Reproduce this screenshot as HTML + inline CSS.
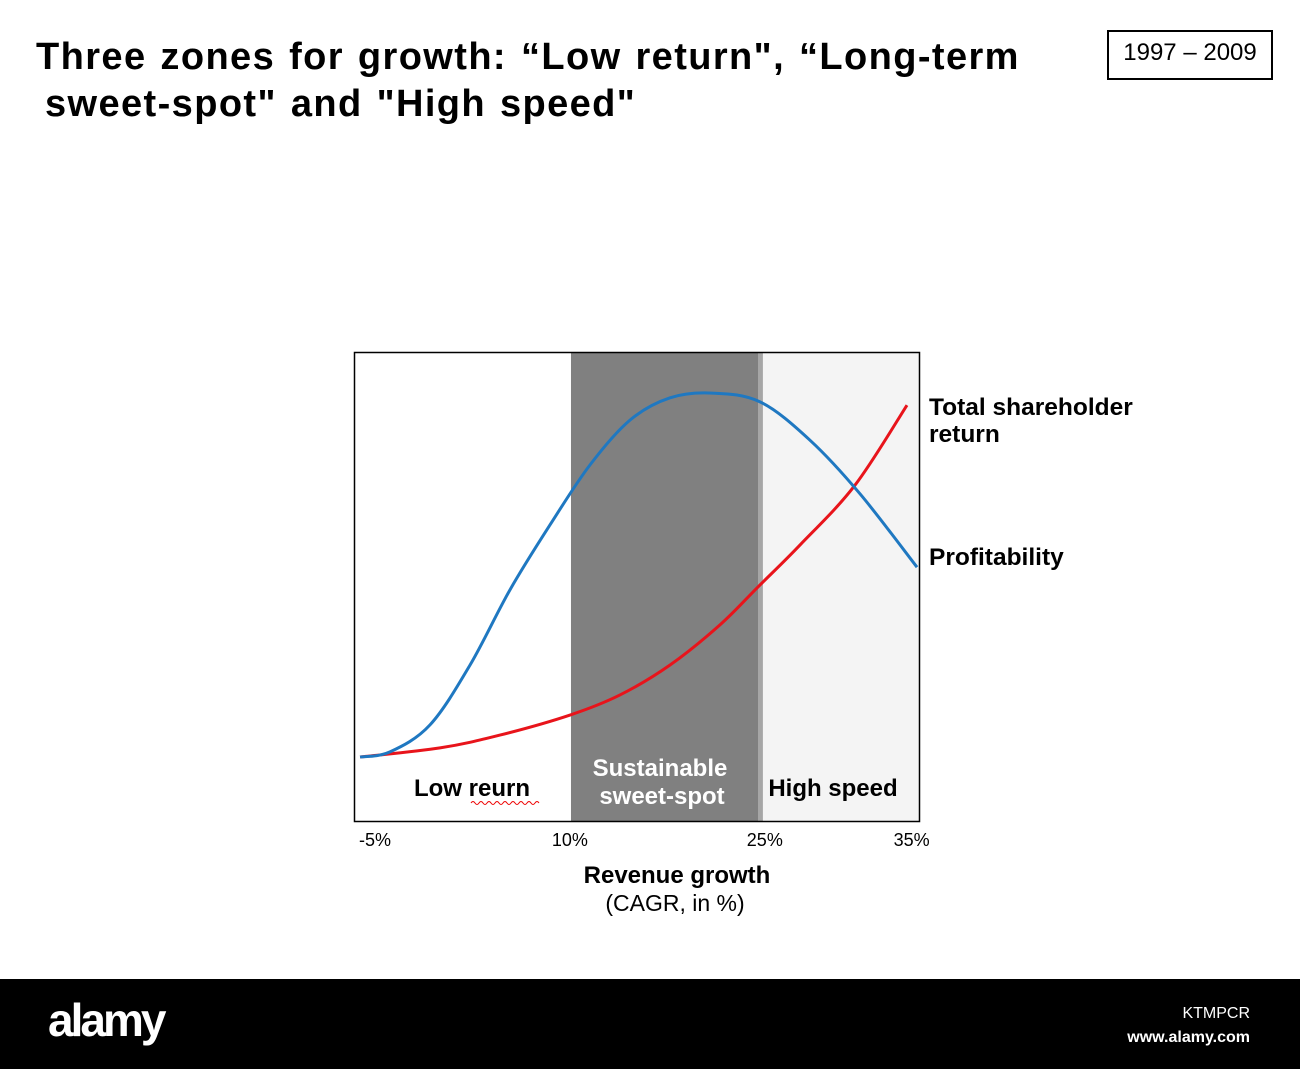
<!DOCTYPE html>
<html><head><meta charset="utf-8"><style>
body{margin:0;width:1300px;height:1069px;background:#fff;overflow:hidden;position:relative;font-family:"Liberation Sans",Arial,sans-serif}
.t{position:absolute;color:#000}
</style></head><body>
<div class="t" style="left:36px;top:34px;font-size:38px;font-weight:bold;line-height:47px;letter-spacing:1.4px;word-spacing:2px">Three zones for growth: “Low return", “Long-term<br><span style="padding-left:9px">sweet-spot" and "High speed"</span></div>
<div class="t" style="left:1107px;top:30px;width:162px;height:46px;border:2px solid #000;font-size:24px;line-height:42px;text-align:center">1997 – 2009</div>
<svg id="c" width="1300" height="1069" style="position:absolute;left:0;top:0"></svg>
<div style="position:absolute;left:0;top:979px;width:1300px;height:90px;background:#000"></div>
<div class="t" style="left:48px;top:993px;color:#fff;font-size:46px;font-weight:bold;letter-spacing:-3px">alamy</div>
<div class="t" style="left:1115px;top:1002px;color:#fff;font-size:16px;line-height:24px;text-align:right;width:135px">KTMPCR<br><b>www.alamy.com</b></div>
<script>
const blueX=[-6.12,-3.88,-0.88,2.12,5.11,8.11,11.1,14.1,17.1,20.24,23.84,27.58,31.33,35.6];
const blueY=[0,1.4,8.8,25.2,45.8,63.6,80,92.3,98.4,99.7,97.3,86.8,72.1,52];
const redX=[-6.12,-0.13,4.36,9.61,13.35,17.1,20.84,23.69,26.84,30.96,34.85];
const redY=[0,2.5,6,11.5,17,25.2,36.2,46.6,58.1,74.5,96.4];
const ticks=[-5,9.6,24.2,35.2];
const tickLabels=["-5%","10%","25%","35%"];
const zones=[9.68,23.69,24.06,35.8];
const NS="http://www.w3.org/2000/svg",svg=document.getElementById('c');
const X=v=>375+(v+5)*13.35, Y=v=>757-v*3.65;
function mk(t,a,txt){const e=document.createElementNS(NS,t);for(const k in a)e.setAttribute(k,a[k]);if(txt)e.textContent=txt;svg.appendChild(e);return e;}
let r=mk('rect',{x:X(zones[0]),y:352,width:X(zones[1])-X(zones[0]),height:470,fill:'#808080'});

r=mk('rect',{x:X(zones[1]),y:352,width:X(zones[2])-X(zones[1]),height:470,fill:'#a6a6a6'});

r=mk('rect',{x:X(zones[2]),y:352,width:X(zones[3])-X(zones[2]),height:470,fill:'#f4f4f4'});

r=mk('rect',{x:354.5,y:352.5,width:565,height:469,fill:'none',stroke:'#000','stroke-width':1.5});

function path(xs,ys){const p=xs.map((x,i)=>[X(x),Y(ys[i])]);let d='M'+p[0];for(let i=0;i<p.length-1;i++){const a=p[i-1]||p[i],b=p[i],c=p[i+1],e=p[i+2]||c;d+=` C${b[0]+(c[0]-a[0])/6},${b[1]+(c[1]-a[1])/6} ${c[0]-(e[0]-b[0])/6},${c[1]-(e[1]-b[1])/6} ${c[0]},${c[1]}`;}return d;}
let l=mk('path',{d:path(redX,redY),fill:'none',stroke:'#e8141b','stroke-width':3});

l=mk('path',{d:path(blueX,blueY),fill:'none',stroke:'#1f78c1','stroke-width':3});

ticks.forEach((t,i)=>{const e=mk('text',{x:X(t),y:846,'font-size':18,'text-anchor':'middle',fill:'#000'},tickLabels[i]);
});
const labels=[[472,796,'Low reurn','#000','middle',24,'zone-label-low'],[660,776,'Sustainable','#fff','middle',24,'zone-label-sweet'],[662,804,'sweet-spot','#fff','middle',24,'zone-label-sweet-2'],[833,796,'High speed','#000','middle',24,'zone-label-high'],
[929,415,'Total shareholder','#000','start',24.5,'tsr-label'],[929,442,'return','#000','start',24.5,'tsr-label-2'],[929,565,'Profitability','#000','start',24.5,'profitability-label'],
[677,883,'Revenue growth','#000','middle',24,'x-axis-title'],[675,911,'(CAGR, in %)','#000','middle',23,'x-axis-subtitle']];
labels.forEach(a=>{const e=mk('text',{x:a[0],y:a[1],fill:a[3],'text-anchor':a[4],'font-size':a[5],'font-weight':a[6]=='x-axis-subtitle'?'normal':'bold'},a[2]);
});
l=mk('path',{d:'M471,803 q2,-3 4,0 t4,0 t4,0 t4,0 t4,0 t4,0 t4,0 t4,0 t4,0 t4,0 t4,0 t4,0 t4,0 t4,0 t4,0 t4,0 t4,0',fill:'none',stroke:'#e00','stroke-width':1});

</script>
</body></html>
